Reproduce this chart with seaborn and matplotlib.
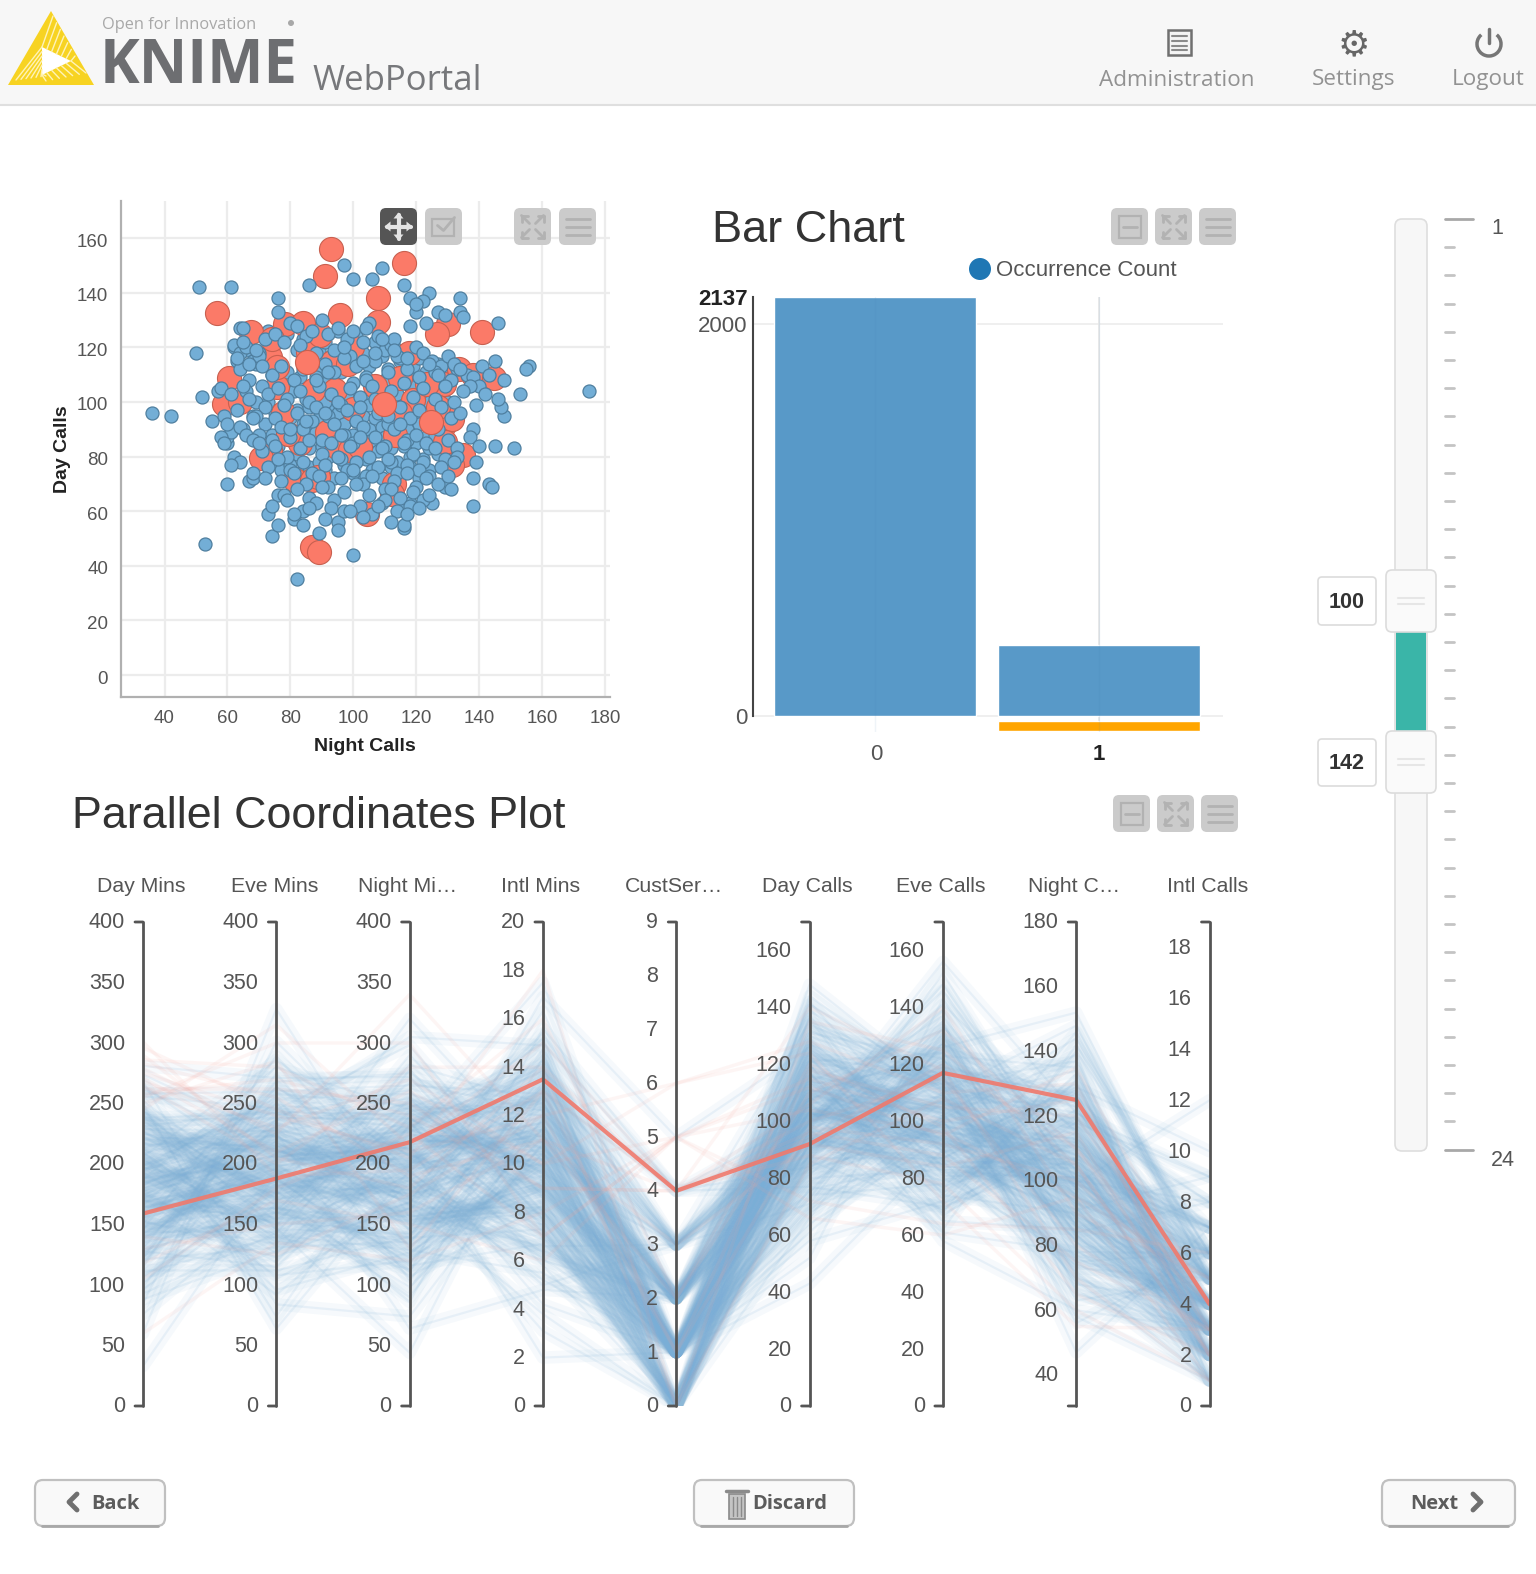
import matplotlib
matplotlib.use("Agg")
import matplotlib.pyplot as plt
from matplotlib.patches import FancyBboxPatch, Rectangle, Polygon, Circle, Arc
from matplotlib.transforms import ScaledTranslation
import seaborn as sns
import pandas as pd

W, H = 1536, 1574

# scatter
red_x = [93,116,91,56.7,67.6,78.3,83.9,95.8,108,108,130,126.6,140.9,73.5,85.7,60.5,75.6,58.8,64,94.2,107,117.8,114.9,128.7,133.5,138.2,144.6,119.1,100,128.7,131.3,91.5,113.3,129.2,94.7,73.5,70.8,135,131.3,81.5,86.8,88.9,112.8,112.2,104.3,99,83,79.3,77.7,87.3,93.1,98.4,99.5,89.4,74,75.6,123.4,127,114.9,102.2,87,89]
red_y = [156,151,146,132.6,125.7,128.7,129,131.8,137.9,129.3,128.7,125,125.7,116.5,118.3,108.6,105.5,99.4,100,104.3,106,118,108.6,106.5,112.2,109.8,108.6,100.6,97.6,91.5,93.9,89,87.8,85.4,83.6,82.3,79.3,80.5,76.8,71.3,71.3,72.6,70.1,66.4,59.1,82.3,84.8,88.4,95.8,104.3,114.7,114,120.2,124.5,123.2,112.9,106.7,98.2,95.8,83.6,47,45]
top_red_x = [109.9,124.8,85.2]
top_red_y = [99.4,92.7,114.7]
blue_x = [36,42,51,61,175,53,82,100,116,116,74,73,89,81,84,95,156,155,153,151,145,148,147,146,145,146,148,143,144,138,138,125,116,118,129,131,60,67,68,76,50,52,55,59,57,60,60,61,97,100,109,106,116,86,76,124,122,118,120,120,134,134,135,123,127,129,
          64,65,62,66,63,70,72,75,69,78,80,76,82,85,87,83,90,92,88,95,98,94,100,103,99,105,108,110,104,112,115,113,118,120,122,125,128,130,126,133,136,132,138,140,
          64,67,71,74,77,81,84,88,91,94,97,101,104,107,111,114,117,121,124,127,131,134,137,141,143,
          66,69,73,76,79,83,86,89,93,96,99,102,106,109,112,116,119,122,126,129,132,135,139,142,
          68,72,75,78,82,85,88,92,95,98,101,105,108,111,115,118,121,125,128,131,134,138,
          65,70,74,77,80,84,87,90,94,97,100,103,107,110,113,117,120,123,127,130,133,137,140,
          71,75,79,83,86,90,93,96,99,102,105,109,112,116,119,122,126,129,133,
          73,76,80,84,87,91,95,98,101,104,108,111,114,117,121,124,128,132,139,
          72,77,81,85,89,92,96,100,103,106,110,113,117,120,123,127,130,
          78,82,86,90,94,97,101,105,109,112,115,119,122,
          68,74,79,84,88,93,97,102,106,110,114,118,124,
          76,81,86,91,95,99,103,108,112,117,121,
          80,85,91,96,102,107,111,115,
          103,107,88,92,97,109,113,117,
          62,64,66,68,70,63,65,67,69,71,58,61,63,65,67,69,60,64,68,58,59,66,68,62,64,70,61]
blue_y = [96,95,142,142,104,48,35,44,54,55,51,59,52,57,55,56,113,112,103,83,84,95,98,101,115,129,108,70,69,72,62,63,61,63,69,68,70,71,72,66,118,102,93,95,104,85,87,89,150,145,149,145,143,143,138,140,137,138,133,136,138,133,131,129,133,132,
          127,127,120,119,115,118,123,125,114,122,129,133,128,124,126,121,130,125,118,127,123,119,126,122,117,129,124,119,127,121,116,123,128,120,118,115,113,117,111,112,110,114,109,106,
          112,108,106,110,113,108,112,109,114,111,116,113,108,115,111,117,112,109,114,110,108,112,106,113,110,
          104,100,103,105,101,104,100,106,103,99,105,102,106,100,104,107,102,105,101,106,100,104,99,103,
          95,98,94,99,96,92,98,95,100,97,93,99,96,92,98,94,97,93,98,94,96,90,
          90,88,86,91,87,90,93,86,92,88,85,91,87,84,90,86,88,85,90,86,83,87,84,
          82,84,80,83,86,81,85,79,84,87,80,83,78,85,81,78,83,79,80,
          76,79,75,78,74,77,80,75,78,73,76,79,74,77,75,73,76,78,78,
          72,71,74,70,73,69,72,75,70,73,68,71,74,69,72,70,73,
          66,68,65,69,64,67,70,66,63,68,65,67,64,
          74,62,64,60,63,61,60,62,59,64,60,62,66,
          55,59,61,57,53,60,58,62,56,59,61,
          90,93,96,88,98,101,95,92,
          115,118,108,111,120,123,119,116,
          121,118,120,115,117,116,122,114,119,113,105,103,97,106,101,95,92,91,94,87,85,88,86,80,78,85,77]
dense_x = [73,76,79,82,84,87,89,91,93,95,97,99,101,103,105,107,109,111,113,115,117,119,121,123,125,127,129,131,74,77,79,81,83,85,88,90,92,94,96,98,100,102,104,106,108,110,112,114,116,118,120,122,124,126,128,130,
           73,75,78,80,82,84,86,89,91,93,95,97,99,101,103,105,107,109,111,113,115,117,119,121,123,126,129,72,74,76,78,80,82,84,86,88,90,92,94,96,98,100,102,104,106,108,110,112,114,116,118,120,122,124,127,
           74,77,80,83,86,89,91,94,97,100,103,106,109,112,115,118,121,124]
dense_y = [126,122,125,119,123,127,119,122,117,126,120,116,124,118,113,122,117,112,120,115,110,113,116,111,109,114,111,108,110,107,111,104,109,101,111,105,108,99,111,103,107,100,109,102,105,108,101,103,99,106,102,104,100,103,97,100,
           100,96,99,94,97,92,98,94,100,91,96,92,98,93,95,90,94,91,96,92,97,90,95,92,87,88,90,92,88,84,91,86,81,87,83,89,84,80,87,85,80,88,84,79,86,82,87,83,78,84,80,85,79,83,81,
           78,75,77,74,76,78,75,72,77,74,71,75,72,76,73,76,72,75]

# bar chart
bar_cats = ["0", "1"]
bar_vals = [2137, 360]
selected_span = (-77, -26)

# parallel coordinates, hand read lines
axis_names = ["Day Mins", "Eve Mins", "Night Mi\u2026", "Intl Mins", "CustSer\u2026", "Day Calls", "Eve Calls", "Night C\u2026", "Intl Calls"]
axis_min = [0, 0, 0, 0, 0, 0, 0, 30.4, 0]
axis_max = [400, 400, 400, 20, 9, 170, 170, 180, 19]
axis_ticks = [list(range(0, 401, 50)), list(range(0, 401, 50)), list(range(0, 401, 50)), list(range(0, 21, 2)), list(range(0, 10)),
              list(range(0, 161, 20)), list(range(0, 161, 20)), list(range(40, 181, 20)), list(range(0, 19, 2))]

day_mins = [184,129,265,166,210,143,197,231,112,178,155,241,187,93,220,160,205,134,252,175,
            118,193,148,226,171,201,85,239,157,213,182,126,268,164,195,141,229,107,176,216,
            151,244,188,99,223,169,207,137,256,173,121,191,146,233,159,199,76,247,180,211,
            131,186,162,274,203,115,218,153,236,168,192,139,60,227,177,209,124,258,150,185,
            172,238,102,196,144,214,165,281,189,128,224,156,200,88,243,174,135,206,161,230,
            110,183,147,250,194,170,217,122,235,179,142,208,167,262,152,198,96,221,190,33]
eve_mins = [221,158,187,263,132,204,176,245,112,198,229,165,280,143,213,190,96,237,171,208,
            251,126,195,182,224,149,301,169,216,138,240,203,84,191,258,155,227,177,119,211,
            268,146,199,234,162,188,105,219,246,174,131,206,289,153,193,230,167,74,214,185,
            254,141,201,222,159,275,179,123,238,196,150,209,328,172,226,135,183,260,164,207,
            92,242,189,218,144,233,156,271,200,115,212,178,249,128,194,231,160,286,168,205,
            140,225,186,64,236,152,215,264,175,108,197,243,163,210,134,255,181,223,147,192]
night_mins = [196,254,118,207,163,235,182,298,140,220,171,90,245,199,154,267,127,212,186,229,
              104,239,175,201,146,282,193,224,133,168,261,209,74,188,248,157,216,123,231,178,
              275,142,205,197,252,111,164,227,185,320,136,214,172,242,150,194,98,233,203,160,
              258,129,218,180,290,145,208,169,237,116,190,247,156,222,64,198,176,265,139,211,
              184,230,107,167,244,151,200,272,125,217,173,86,238,192,158,255,134,206,179,226,
              113,250,162,195,305,143,213,187,234,120,170,241,153,202,278,131,219,166,44,228]
intl_mins = [10.2,7.4,12.8,9.1,14.3,5.8,11.2,8.6,13.4,10.7,6.5,11.9,9.6,15.2,8.1,12.2,10.0,4.2,13.0,9.3,
             11.5,7.0,14.7,10.4,8.9,12.5,6.1,11.0,9.8,16.3,7.8,13.7,10.9,5.2,12.0,8.4,11.7,9.0,14.0,6.9,
             10.6,13.2,7.6,11.3,9.4,15.6,8.2,12.7,3.1,10.1,11.8,6.3,13.5,9.7,8.0,14.5,10.8,7.2,12.4,9.2,
             11.1,5.5,13.9,10.3,8.7,16.9,7.9,12.1,9.9,6.7,11.6,14.1,8.5,10.5,4.8,13.1,9.5,12.9,7.3,11.4,
             10.0,15.0,8.3,6.0,12.6,9.0,13.6,7.7,11.0,2.0,10.7,14.4,8.8,12.3,6.6,9.6,13.3,11.2,7.5,17.5,
             10.4,8.6,12.0,5.0,14.9,9.3,11.7,7.1,13.8,10.2,6.4,12.5,9.1,15.4,8.0,11.4,10.9,3.8,13.0,9.8]
cust_serv = [1,0,2,1,3,0,1,2,1,0,1,2,3,1,0,2,1,1,4,0,
             2,1,0,3,1,2,1,0,1,2,1,3,0,1,2,1,0,2,1,1,
             3,2,0,1,1,4,2,1,0,1,3,2,1,0,1,2,1,0,3,1,
             2,1,1,0,2,5,1,3,0,1,2,1,0,1,2,3,1,1,0,2,
             1,4,0,2,1,1,3,0,2,1,1,0,2,1,3,1,0,2,1,1,
             2,0,1,3,1,2,0,1,4,1,2,1,0,3,1,2,1,0,1,2]
day_calls = [104,87,122,96,71,113,101,136,84,109,92,127,99,64,117,106,79,131,94,111,
             88,103,144,97,118,75,108,90,125,100,58,114,93,129,82,107,98,121,68,110,
             95,139,86,116,102,77,124,91,105,148,83,112,97,128,73,101,119,89,106,134,
             94,52,115,100,81,126,92,108,120,70,103,96,137,85,111,99,123,78,107,90,
             142,102,66,117,95,113,87,130,98,74,109,121,91,104,135,80,116,93,127,61,
             106,88,119,101,76,132,97,110,84,125,100,69,114,94,141,86,108,122,43,103]
eve_calls = [96,118,82,107,131,90,112,74,101,125,87,109,141,94,68,115,99,122,79,105,
             134,92,110,61,103,127,85,116,98,146,72,108,120,89,100,137,77,113,95,124,
             83,106,152,91,117,70,102,129,86,111,97,65,119,93,133,80,104,123,88,114,
             100,143,75,109,126,84,96,121,58,107,92,130,81,115,101,139,71,110,94,118,
             89,105,128,67,99,120,87,112,148,78,103,124,95,62,116,83,106,135,91,102,
             73,119,97,127,86,111,156,93,108,76,122,100,132,85,113,69,104,117,90,98]
night_calls = [112,86,101,134,75,97,121,90,108,63,127,99,115,82,140,93,104,71,118,96,
               88,109,148,78,102,124,91,56,113,100,131,84,106,120,69,95,111,137,87,103,
               74,116,98,129,81,107,144,92,65,119,105,85,126,94,110,77,100,135,89,114,
               72,97,122,83,152,104,91,117,60,108,128,79,101,93,139,86,112,68,99,123,
               88,106,76,115,96,47,130,84,103,119,73,109,94,142,81,100,125,66,111,90,
               133,98,78,116,105,87,121,70,102,146,92,113,83,107,58,118,95,127,75,99]
intl_calls = [3,5,4,2,6,3,8,4,1,5,3,7,2,4,6,3,5,2,9,4,
              3,1,5,4,7,2,3,6,4,5,2,8,3,4,1,6,5,3,2,7,
              4,3,5,10,2,4,6,1,3,5,4,2,7,3,6,4,8,2,5,3,
              1,4,6,3,5,2,9,4,3,7,5,2,4,6,1,3,5,4,12,2,
              3,6,4,5,2,7,3,1,4,8,5,3,2,6,4,3,5,2,7,4,
              1,3,6,5,2,4,9,3,4,5,2,6,3,7,1,4,5,3,2,6]
blue_lines = [day_mins, eve_mins, night_mins, intl_mins, cust_serv, day_calls, eve_calls, night_calls, intl_calls]

red_lines = [
    [275,262,290,255,130,286,268,60,301,245,118,279,258,140,296,271,250,105,283,265],
    [240,262,205,300,150,280,230,135,190,315,170,225,270,125,245,210,285,180,255,200],
    [210,250,180,300,160,230,270,120,195,215,150,340,240,175,205,260,130,225,190,280],
    [12,9,14,7,11,16,10,8,13,15,6,11,9,12,18,10,13,7,11,14],
    [1,4,0,5,4,2,6,5,1,4,5,3,4,6,0,5,4,5,2,4],
    [118,96,135,104,88,110,128,72,98,140,115,92,106,124,85,112,100,66,120,94],
    [105,88,125,96,78,132,110,64,92,118,100,84,140,72,108,95,115,60,98,120],
    [120,75,105,95,60,110,130,85,100,70,125,115,90,55,105,135,80,95,65,110],
    [4,3,2,5,1,3,2,6,4,1,3,2,5,3,2,4,3,1,2,4],
]
picked_line = [159, 188, 218, 13.5, 4, 92, 117, 125, 4]

slider_values = [100, 142]

CHART_FONT = "Liberation Sans"
UI_FONT = "Open Sans"
TXT = "#555555"

sns.set_theme(style="white")
plt.rcParams["font.family"] = [CHART_FONT, "DejaVu Sans"]

fig = plt.figure(figsize=(W / 100, H / 100), dpi=100, facecolor="white")


def px_axes(x0, y0, x1, y1, z=1):
    ax = fig.add_axes([x0 / W, 1 - y1 / H, (x1 - x0) / W, (y1 - y0) / H], zorder=z)
    ax.patch.set_alpha(0)
    return ax


def overlay(z):
    ax = fig.add_axes([0, 0, 1, 1], zorder=z)
    ax.set_xlim(0, W)
    ax.set_ylim(H, 0)
    ax.axis("off")
    return ax


back = overlay(0)
front = overlay(6)


def round_box(ax, x0, y0, x1, y1, fc, ec="none", lw=1, r=5, z=2):
    ax.add_patch(FancyBboxPatch((x0 + r, y0 + r), x1 - x0 - 2 * r, y1 - y0 - 2 * r,
                                boxstyle=f"round,pad={r},rounding_size={r}", fc=fc, ec=ec, lw=lw, zorder=z))


# header
back.add_patch(Rectangle((0, 0), W, 105, fc="#f7f7f7", ec="none"))
back.plot([0, W], [105, 105], color="#dfdfdf", lw=1.5)
back.add_patch(Polygon([(8, 85), (51, 11), (94, 85)], fc="#f7d322", ec="none", zorder=2))
back.add_patch(Polygon([(42, 47), (42, 75), (71, 61)], fc="white", ec="none", zorder=3))
for k in range(7):
    f = k / 6
    back.plot([42, 16 + 30 * f], [47 + 27 * f, 80 - 4 * f], color="#fff3b8", lw=1, zorder=3)
    back.plot([42 + 29 * f, 53 + 22 * f], [47 + 14 * f, 16 + 40 * f], color="#fff3b8", lw=1, zorder=3)
    back.plot([42 + 29 * f, 46 + 40 * f], [75 - 14 * f, 81 - 8 * f], color="#fff3b8", lw=1, zorder=3)
back.text(102, 25, "Open for Innovation", family=UI_FONT, fontsize=11.8, color="#a8a8a8", va="center")
back.add_patch(Circle((291, 23), 3, fc="#a8a8a8", ec="none"))
back.text(100, 83, "KNIME", family="Open Sans", weight="bold", fontsize=43, color="#6d6e71", va="baseline")
back.text(312, 90, "WebPortal", family=UI_FONT, fontsize=25, color="#77787b", va="baseline")
for name, cx in [("Administration", 1177), ("Settings", 1354), ("Logout", 1488)]:
    back.text(cx, 80, name, family=UI_FONT, fontsize=16.2, color="#929292", ha="center", va="center")
back.add_patch(Rectangle((1168, 30), 23, 25, fc="#f4f4f4", ec="#707070", lw=1.8))
for yy in [36, 41, 46, 50]:
    back.plot([1172, 1187], [yy, yy], color="#8a8a8a", lw=1.5)
back.text(1354, 45, "\u2699", family="DejaVu Sans", fontsize=26, weight="bold", color="#666666", ha="center", va="center")
back.add_patch(Arc((1489, 44), 24, 24, theta1=-50, theta2=230, ec="#767676", lw=2.5))
back.plot([1489, 1489], [29, 43], color="#767676", lw=2.5)


def icon(x, y, kind, dark=False):
    fc, mk = ("#555555", "#e4e4e4") if dark else ("#cbcbcb", "#b2b2b2")
    round_box(front, x, y, x + 37, y + 37, fc, r=6, z=7)
    cx, cy = x + 18.5, y + 18.5
    if kind == "bars":
        for d in [-8, 0, 8]:
            front.plot([cx - 12, cx + 12], [cy + d, cy + d], color=mk, lw=2, zorder=8)
    elif kind == "full":
        for sx in [-1, 1]:
            for sy in [-1, 1]:
                front.plot([cx + sx * 3, cx + sx * 11], [cy + sy * 3, cy + sy * 11], color=mk, lw=2, zorder=8)
                front.plot([cx + sx * 11, cx + sx * 5], [cy + sy * 11, cy + sy * 11], color=mk, lw=2, zorder=8)
                front.plot([cx + sx * 11, cx + sx * 11], [cy + sy * 11, cy + sy * 5], color=mk, lw=2, zorder=8)
    elif kind == "min":
        front.add_patch(Rectangle((cx - 11, cy - 11), 22, 22, fc="none", ec=mk, lw=1.6, zorder=8))
        front.plot([cx - 7, cx + 7], [cy, cy], color=mk, lw=2, zorder=8)
    elif kind == "check":
        front.add_patch(Rectangle((cx - 12, cy - 8), 22, 17, fc="none", ec=mk, lw=1.6, zorder=8))
        front.plot([cx - 6, cx, cx + 11], [cy - 1, cy + 4, cy - 9], color=mk, lw=2, zorder=8)
    elif kind == "move":
        front.plot([cx - 12, cx + 12], [cy, cy], color=mk, lw=3, zorder=8)
        front.plot([cx, cx], [cy - 12, cy + 12], color=mk, lw=3, zorder=8)
        for sx, sy in [(1, 0), (-1, 0), (0, 1), (0, -1)]:
            tip = (cx + sx * 14, cy + sy * 14)
            front.add_patch(Polygon([tip, (cx + sx * 8 - sy * 5, cy + sy * 8 - sx * 5), (cx + sx * 8 + sy * 5, cy + sy * 8 + sx * 5)],
                                    fc=mk, ec="none", zorder=8))


icon(380, 208, "move", dark=True)
icon(425, 208, "check")
icon(514, 208, "full")
icon(559, 208, "bars")
icon(1111, 208, "min")
icon(1155, 208, "full")
icon(1199, 208, "bars")
icon(1113, 795, "min")
icon(1157, 795, "full")
icon(1201, 795, "bars")

# scatter: part of the blue cloud sits under the red discs, the rest on top
ax = px_axes(120.5, 201, 610, 697)
sns.scatterplot(x=dense_x, y=dense_y, color="#73aed6", s=88, edgecolor="#4f7f9f", linewidth=0.9, legend=False, ax=ax)
sns.scatterplot(x=red_x, y=red_y, color="#fb7a68", s=300, edgecolor="#c8604f", linewidth=0.8, legend=False, ax=ax)
sns.scatterplot(x=blue_x, y=blue_y, color="#73aed6", s=88, edgecolor="#4f7f9f", linewidth=0.9, legend=False, ax=ax)
sns.scatterplot(x=top_red_x, y=top_red_y, color="#fb7a68", s=300, edgecolor="#c8604f", linewidth=0.8, legend=False, ax=ax)
ax.set_xlim(26, 181.6)
ax.set_ylim(-8.05, 173.6)
ax.set_xticks(range(40, 181, 20))
ax.set_yticks(range(0, 161, 20))
ax.grid(True, color="#ececec", lw=1.6)
ax.set_axisbelow(True)
sns.despine(ax=ax)
for s in ["left", "bottom"]:
    ax.spines[s].set_color("#b0b0b0")
    ax.spines[s].set_linewidth(1.6)
ax.tick_params(length=0, labelsize=13.5, labelcolor=TXT, pad=9)
ax.set_xlabel("Night Calls", fontsize=14, weight="bold", color="#222222", labelpad=8)
ax.set_ylabel("Day Calls", fontsize=14, weight="bold", color="#222222", labelpad=4)
nudge = ScaledTranslation(0, -2 / 100, fig.dpi_scale_trans)
for lab in ax.get_yticklabels():
    lab.set_transform(lab.get_transform() + nudge)

# bar chart
back.text(712, 230, "Bar Chart", fontsize=32.5, color="#333333", va="center")
back.add_patch(Circle((980, 269), 11, fc="#1f77b4", ec="none"))
back.text(996, 271, "Occurrence Count", fontsize=16, color=TXT, va="center")
bax = px_axes(753, 297, 1223, 732)
top_val = bar_vals[0]
scale = (716 - 297) / top_val
bax.set_ylim(-(732 - 716) / scale, top_val)
bax.axhline(2000, color="#ececec", lw=1.2, zorder=0)
bax.axhline(0, color="#ececec", lw=1.2, zorder=0)
sns.barplot(x=bar_cats, y=bar_vals, color="#5899c8", saturation=1, width=0.904, ax=bax)
bax.bar([1], [selected_span[1] - selected_span[0]], bottom=selected_span[0], width=0.904, color="#ffa500")
bax.axvline(1, color="#e8e8e8", lw=1.2, zorder=0)
bax.axvline(1, color="#3f7faf", lw=1, alpha=0.1, zorder=5)
bax.axvline(0, color="#3f7faf", lw=1, alpha=0.08, zorder=5)
bax.set_xlim(-0.548, 1.557)
bax.set_xlabel("")
bax.set_ylabel("")
bax.set_yticks([0, 2000, 2137])
bax.set_yticklabels(["0", "2000", "2137"], fontsize=16, color=TXT)
bax.get_yticklabels()[2].set_color("#222222")
bax.get_yticklabels()[2].set_weight("bold")
bax.tick_params(axis="y", length=0, pad=4)
bax.tick_params(axis="x", length=0, labelbottom=False)
for s in ["top", "right", "bottom"]:
    bax.spines[s].set_visible(False)
bax.spines["left"].set_color("#444444")
bax.spines["left"].set_linewidth(1.5)
bax.spines["left"].set_bounds(0, top_val)
back.text(876, 754, bar_cats[0], fontsize=16, color=TXT, ha="center", va="center")
back.text(1099, 754, bar_cats[1], fontsize=16, color="#222222", weight="bold", ha="center", va="center")

# parallel coordinates
back.text(72, 816, "Parallel Coordinates Plot", fontsize=32.3, color="#333333", va="center")
pax = px_axes(143, 922, 1209.5, 1406, z=1)


def norm(vals, i):
    return [(v - axis_min[i]) / (axis_max[i] - axis_min[i]) for v in vals]


def to_long(columns):
    rows = []
    for i, col in enumerate(columns):
        for r, v in enumerate(norm(col, i)):
            rows.append({"axis": i, "value": v, "row": r})
    return pd.DataFrame(rows)


blue_long = to_long(blue_lines)
red_long = to_long(red_lines)
# wide soft pass for the haze, thin pass for the strands
sns.lineplot(data=blue_long, x="axis", y="value", units="row", estimator=None, color="#7aaed6", alpha=0.065, lw=9, ax=pax, legend=False)
sns.lineplot(data=blue_long, x="axis", y="value", units="row", estimator=None, color="#7aaed6", alpha=0.12, lw=1.6, ax=pax, legend=False)
sns.lineplot(data=red_long, x="axis", y="value", units="row", estimator=None, color="#f4a39a", alpha=0.10, lw=2.5, ax=pax, legend=False)
sns.lineplot(x=list(range(9)), y=[norm([v], i)[0] for i, v in enumerate(picked_line)], color="#f0796c", alpha=0.9, lw=3, ax=pax, legend=False, errorbar=None, estimator=None)
pax.set_xlim(0, 8)
pax.set_ylim(0, 1)
pax.axis("off")

for i, name in enumerate(axis_names):
    pax.plot([i, i], [0, 1], color="#555555", lw=2, zorder=5, clip_on=False)
    for end in [0, 1]:
        pax.annotate("", xy=(i, end), xytext=(-8, 0), textcoords="offset pixels", annotation_clip=False,
                     arrowprops=dict(arrowstyle="-", color="#555555", lw=2, shrinkA=0, shrinkB=0))
    for t in axis_ticks[i]:
        pax.annotate(str(t), xy=(i, norm([t], i)[0]), xytext=(-18, -1), textcoords="offset pixels", ha="right", va="center",
                     fontsize=15.5, color=TXT, annotation_clip=False, zorder=6)
    pax.annotate(name, xy=(i, 1), xytext=(-2, 35), textcoords="offset pixels", ha="center", va="center",
                 fontsize=15.3, color=TXT, annotation_clip=False)

# slider
back.add_patch(FancyBboxPatch((1402, 226), 18, 918, boxstyle="round,pad=7,rounding_size=7", fc="#f7f7f7", ec="#dedede", lw=1.2, zorder=2))
back.add_patch(Rectangle((1396, 632), 30, 99, fc="#3ab5a8", ec="none", zorder=3))
for y in [219 + i * 28.2 for i in range(34)]:
    long_tick = y < 220 or y > 1140
    back.plot([1445, 1473 if long_tick else 1454], [y, y], color="#a8a8a8" if long_tick else "#c4c4c4", lw=2)
back.text(1497, 229, "1", fontsize=15.5, color=TXT, ha="center", va="center")
back.text(1503, 1160, "24", fontsize=15.5, color=TXT, ha="center", va="center")
for val, y0, y1, by0, by1 in [(slider_values[0], 570, 632, 577, 625), (slider_values[1], 731, 793, 739, 786)]:
    round_box(back, 1386, y0, 1436, y1, "#fafafa", ec="#dcdcdc", lw=1.2, r=6, z=4)
    for d in [-3, 3]:
        back.plot([1398, 1424], [(y0 + y1) / 2 + d] * 2, color="#e6e6e6", lw=1.5, zorder=5)
    round_box(back, 1318, by0, 1376, by1, "white", ec="#dcdcdc", lw=1.2, r=4, z=4)
    back.text(1347, (by0 + by1) / 2 + 1, str(val), fontsize=15.5, weight="bold", color="#333333", ha="center", va="center", zorder=5)

# buttons
for x0, x1 in [(35, 165), (694, 854), (1382, 1515)]:
    round_box(back, x0, 1480, x1, 1526, "#f9f9f9", ec="#c0c0c0", lw=1.6, r=8)
    back.plot([x0 + 7, x1 - 7], [1526, 1526], color="#a8a8a8", lw=2, zorder=3)
back.text(91, 1504, "Back", family=UI_FONT, fontsize=14.5, weight="bold", color="#5c5c5c", va="center", zorder=4)
back.text(752, 1504, "Discard", family=UI_FONT, fontsize=14.5, weight="bold", color="#5c5c5c", va="center", zorder=4)
back.text(1410, 1504, "Next", family=UI_FONT, fontsize=14.5, weight="bold", color="#5c5c5c", va="center", zorder=4)
back.plot([77, 69, 77], [1494, 1502, 1510], color="#707070", lw=3.5, zorder=4)
back.plot([1473, 1481, 1473], [1494, 1502, 1510], color="#707070", lw=3.5, zorder=4)
back.add_patch(Rectangle((729, 1494), 16, 25, fc="#c4c4c4", ec="#8a8a8a", lw=1.2, zorder=4))
back.plot([726, 748], [1491, 1491], color="#8a8a8a", lw=2.5, zorder=4)
for xx in [733, 737, 741]:
    back.plot([xx, xx], [1497, 1516], color="#8a8a8a", lw=1, zorder=5)

fig.savefig("out.png", dpi=100, facecolor="white")
